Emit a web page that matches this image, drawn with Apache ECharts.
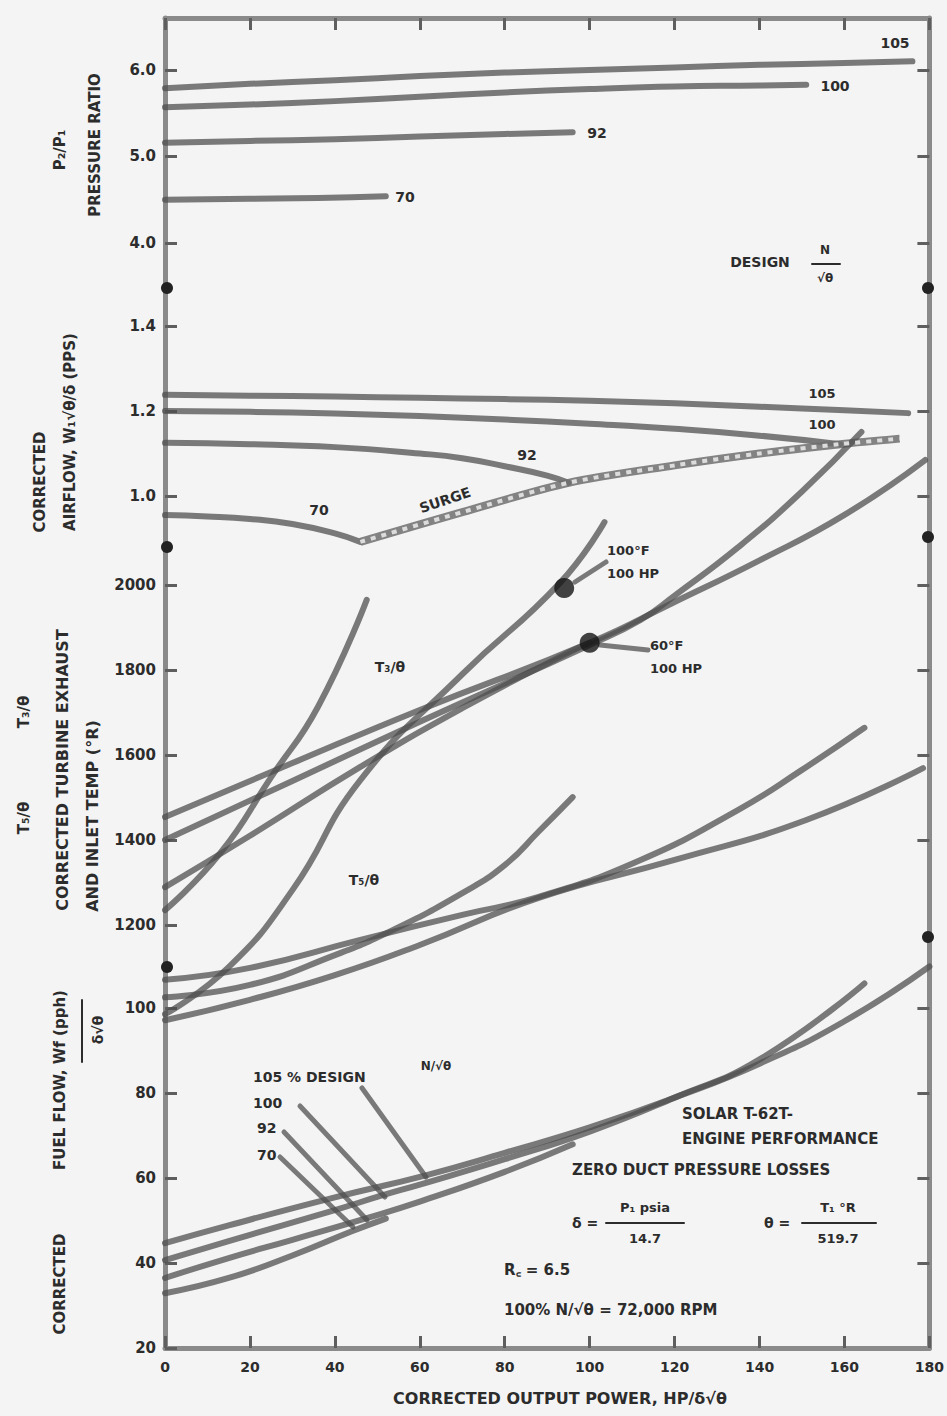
<!DOCTYPE html>
<html><head><meta charset="utf-8">
<script src="https://cdn.jsdelivr.net/npm/echarts@6/dist/echarts.min.js"></script>
<style>html,body{margin:0;padding:0;background:#f4f4f4}#c{width:947px;height:1416px}</style>
</head><body><div id="c"></div><script>
// ---------- DATA ----------
const xTicks = [0,20,40,60,80,100,120,140,160,180];
const prTicks = [4,5,6];
const afTicks = [1.0,1.2,1.4];
const tTicks = [1200,1400,1600,1800,2000];
const fTicks = [20,40,60,80,100];

// Pressure ratio P2/P1
const prX105 = [0,20,40,60,80,100,120,140,160,176];
const prY105 = [5.79,5.84,5.88,5.93,5.97,6.00,6.03,6.06,6.08,6.10];
const prX100 = [0,20,40,60,80,100,120,140,151];
const prY100 = [5.57,5.60,5.64,5.69,5.74,5.78,5.81,5.82,5.83];
const prX92 = [0,20,40,60,80,96];
const prY92 = [5.16,5.18,5.20,5.23,5.26,5.28];
const prX70 = [0,20,36,52];
const prY70 = [4.50,4.51,4.52,4.54];

// Corrected airflow
const afX105 = [0,20,40,60,80,100,120,140,160,175];
const afY105 = [1.238,1.236,1.234,1.231,1.228,1.224,1.218,1.210,1.202,1.195];
const afX100 = [0,20,40,60,80,100,120,140,159];
const afY100 = [1.200,1.198,1.194,1.188,1.180,1.170,1.158,1.142,1.122];
const afX92 = [0,20,40,60,70,80,90,95];
const afY92 = [1.125,1.122,1.115,1.100,1.089,1.070,1.048,1.031];
const afX70 = [0,10,20,30,40,46];
const afY70 = [0.955,0.952,0.946,0.934,0.912,0.892];
const surgeX = [46,70,95,120,140,159,173];
const surgeY = [0.892,0.962,1.031,1.072,1.100,1.122,1.135];

// Temperatures T3/theta and T5/theta
const t3X105 = [0,30,60,100,120,140,160,179];
const t3Y105 = [1454,1581,1706,1864,1960,2058,2165,2294];
const t3X100 = [0,30,60,100,112,120,135,150,164];
const t3Y100 = [1400,1539,1678,1859,1918,1975,2089,2220,2360];
const t3XL = [0,20,46,70,93,100];
const t3YL = [1289,1410,1572,1710,1831,1864];
const t3X70 = [0,13,25,36,47.5];
const t3Y70 = [1235,1369,1548,1713,1965];
const t3X92 = [0,15,30,46,70,93,103.5];
const t3Y92 = [990,1101,1282,1541,1790,2005,2148];
const t5XA = [0,20,40,60,88,120,151,178.5];
const t5YA = [976,1024,1082,1153,1264,1353,1447,1569];
const t5XB = [0,20,46,70,88,112,135,150,164.7];
const t5YB = [1071,1099,1165,1224,1266,1353,1471,1565,1664];
const t5XC = [0,20,40,53.6,70,80,88,96];
const t5YC = [1030,1059,1129,1188,1275,1341,1420,1501];
const hpPoints = [[94,1993],[100,1864]];

// Fuel flow
const fX105 = [0,15,40,61.4,80,100,120,140,160,180];
const fY105 = [44.7,48.9,55.5,60.7,66,72,79,87,97,109.9];
const fX100 = [0,15,40,51.3,60,80,100,120,140,164.7];
const fY100 = [40.7,45.2,52.5,56,58.5,64.5,71,79,88,105.9];
const fX92 = [0,15,30,47.5,60,80,96];
const fY92 = [36.5,41.2,45.5,50.6,54.5,61.5,68];
const fX70 = [0,15,30,44,52];
const fY70 = [32.9,36.5,41.8,47.5,50.5];

// ---------- CHART ----------
const CURVE = 'rgba(78,78,78,0.74)';
const FRAME = '#8a8a8a';
const TICK = '#5e5e5e';
const TXT = '#2c2c2c';
const FONT = '"DejaVu Sans", "Liberation Sans", sans-serif';

function pts(xs, ys){ return xs.map((x,i)=>[x, ys[i]]); }
function line(xs, ys, yi, extra){
  return Object.assign({type:'line', xAxisIndex:0, yAxisIndex:yi, data:pts(xs,ys),
    symbol:'none', smooth:0.5, silent:true, animation:false, z:3,
    lineStyle:{color:CURVE, width:6, cap:'round', join:'round'}}, extra||{});
}
function yAx(min,max,ticks,fmt,pos,showLabel,showLine){
  return {type:'value', min, max, position:pos, offset:0,
    axisLine:{show:!!showLine, onZero:false, lineStyle:{color:FRAME, width:5}}, splitLine:{show:false},
    axisTick:{show:true, inside:true, length:12, customValues:ticks, lineStyle:{color:TICK, width:3}},
    axisLabel:{show:showLabel, customValues:ticks, formatter:fmt, color:TXT, fontSize:15, fontWeight:'bold', fontFamily:FONT, margin:9}};
}
const f1 = v=>v.toFixed(1), f0 = v=>String(Math.round(v));

const series = [
  line(prX105,prY105,0), line(prX100,prY100,0), line(prX92,prY92,0), line(prX70,prY70,0),
  line(afX105,afY105,1), line(afX100,afY100,1), line(afX92,afY92,1), line(afX70,afY70,1),
  line(surgeX,surgeY,1,{smooth:0.3, lineStyle:{color:'rgba(110,110,110,0.85)', width:8}}),
  line(surgeX,surgeY,1,{smooth:0.3, z:4, lineStyle:{color:'#dcdcdc', width:4, type:[5,6]}}),
  line(t3X105,t3Y105,2), line(t3X100,t3Y100,2), line(t3XL,t3YL,2), line(t3X70,t3Y70,2), line(t3X92,t3Y92,2),
  line(t5XA,t5YA,2), line(t5XB,t5YB,2), line(t5XC,t5YC,2),
  line(fX105,fY105,3), line(fX100,fY100,3), line(fX92,fY92,3), line(fX70,fY70,3),
  {type:'scatter', xAxisIndex:0, yAxisIndex:2, data:hpPoints, symbolSize:20, z:6, silent:true, animation:false,
   itemStyle:{color:'#141414'}}
];

const rot = Math.PI/2;
function T(x,y,text,o){
  o=o||{};
  return {type:'text', x, y, rotation:o.rot||0, z:20, silent:true,
    style:{text, fill:TXT, font:'bold '+(o.size||15)+'px '+FONT, align:o.align||'center', verticalAlign:'middle'}};
}
function L(x1,y1,x2,y2,w,c){
  return {type:'line', z:5, silent:true, shape:{x1,y1,x2,y2}, style:{stroke:c||CURVE, lineWidth:w||5, lineCap:'round'}};
}
function D(x,y){ return {type:'circle', z:21, silent:true, shape:{cx:x, cy:y, r:6}, style:{fill:'#222'}}; }

const graphics = [
  // y titles
  T(60,150,'P₂/P₁',{rot, size:15}),
  T(95,145,'PRESSURE RATIO',{rot, size:15}),
  T(40,482,'CORRECTED',{rot, size:15}),
  T(70,432,'AIRFLOW, W₁√θ/δ (PPS)',{rot, size:15}),
  T(24,712,'T₃/θ',{rot, size:15}),
  T(24,818,'T₅/θ',{rot, size:15}),
  T(62,770,'CORRECTED TURBINE EXHAUST',{rot, size:16}),
  T(92,816,'AND INLET TEMP (°R)',{rot, size:16}),
  T(60,1284,'CORRECTED',{rot, size:15}),
  T(60,1080,'FUEL FLOW, Wf (pph)',{rot, size:15}),
  L(82,1000,82,1062,2,TXT),
  T(98,1030,'δ√θ',{rot, size:14}),
  // x title
  T(560,1398,'CORRECTED OUTPUT POWER, HP/δ√θ',{size:16}),
  // panel 1
  T(895,43,'105',{size:14}), T(835,86,'100',{size:14}), T(597,133,'92',{size:14}), T(405,197,'70',{size:14}),
  T(760,262,'DESIGN',{size:14}),
  T(825,250,'N',{size:12}), L(812,264,840,264,2,TXT), T(825,278,'√θ',{size:12}),
  // panel 2
  T(822,393,'105',{size:13}), T(822,424,'100',{size:13}), T(527,455,'92',{size:14}), T(319,510,'70',{size:14}),
  {type:'text', x:445, y:500, rotation:0.33, z:20, silent:true,
   style:{text:'SURGE', fill:TXT, font:'bold 14px '+FONT, align:'center', verticalAlign:'middle'}},
  // panel 3
  L(575,582,606,562,5), T(607,550,'100°F',{size:13, align:'left'}), T(607,573,'100 HP',{size:13, align:'left'}),
  L(600,645,648,650,5), T(650,645,'60°F',{size:13, align:'left'}), T(650,668,'100 HP',{size:13, align:'left'}),
  T(390,667,'T₃/θ',{size:14}), T(364,880,'T₅/θ',{size:14}),
  // panel 4
  T(253,1077,'105 % DESIGN',{size:14, align:'left'}),
  T(436,1066,'N/√θ',{size:12}),
  T(253,1103,'100',{size:14, align:'left'}),
  T(257,1128,'92',{size:14, align:'left'}),
  T(257,1155,'70',{size:14, align:'left'}),
  L(362,1088,426,1177,5), L(300,1106,385,1197,5), L(284,1132,367,1220,5), L(280,1157,353,1227,5),
  T(682,1114,'SOLAR T-62T-',{size:15, align:'left'}),
  T(682,1139,'ENGINE PERFORMANCE',{size:15, align:'left'}),
  T(572,1170,'ZERO DUCT PRESSURE LOSSES',{size:15, align:'left'}),
  T(572,1223,'δ =',{size:14, align:'left'}),
  T(645,1207,'P₁ psia',{size:13}), L(606,1223,684,1223,2,TXT), T(645,1238,'14.7',{size:13}),
  T(764,1223,'θ =',{size:14, align:'left'}),
  T(838,1207,'T₁ °R',{size:13}), L(802,1223,876,1223,2,TXT), T(838,1238,'519.7',{size:13}),
  T(504,1270,'R꜀ = 6.5',{size:15, align:'left'}),
  T(504,1310,'100% N/√θ = 72,000 RPM',{size:15, align:'left'}),
  // divider dots
  D(167,288), D(167,547), D(167,967), D(928,288), D(928,537), D(928,937)
];

const option = {
  backgroundColor:'#f4f4f4',
  animation:false,
  grid:{left:165, right:17, top:18, bottom:68, show:false},
  xAxis:[
    {type:'value', min:0, max:180, interval:20, position:'bottom',
     axisLine:{show:true, onZero:false, lineStyle:{color:FRAME, width:5}}, splitLine:{show:false},
     axisTick:{show:true, inside:true, length:12, lineStyle:{color:TICK, width:3}},
     axisLabel:{color:TXT, fontSize:14, fontWeight:'bold', fontFamily:FONT, margin:12}},
    {type:'value', min:0, max:180, interval:20, position:'top',
     axisLine:{show:true, onZero:false, lineStyle:{color:FRAME, width:5}}, splitLine:{show:false},
     axisTick:{show:true, inside:true, length:12, lineStyle:{color:TICK, width:3}},
     axisLabel:{show:false}}
  ],
  yAxis:[
    yAx(-8.775, 6.601, prTicks, f1, 'left', true, true),
    yAx(-1.0047, 2.1247, afTicks, f1, 'left', true),
    yAx(204.7, 3334.1, tTicks, f0, 'left', true),
    yAx(20, 333.4, fTicks, f0, 'left', true),
    yAx(-8.775, 6.601, prTicks, f1, 'right', false, true),
    yAx(-1.0047, 2.1247, afTicks, f1, 'right', false),
    yAx(204.7, 3334.1, [1400,1600,1800,2000], f0, 'right', false),
    yAx(20, 333.4, [40,60,80,100], f0, 'right', false)
  ],
  series,
  graphic:graphics
};
const chart = echarts.init(document.getElementById('c'), null, {renderer:'svg'});
chart.setOption(option);
</script></body></html>
